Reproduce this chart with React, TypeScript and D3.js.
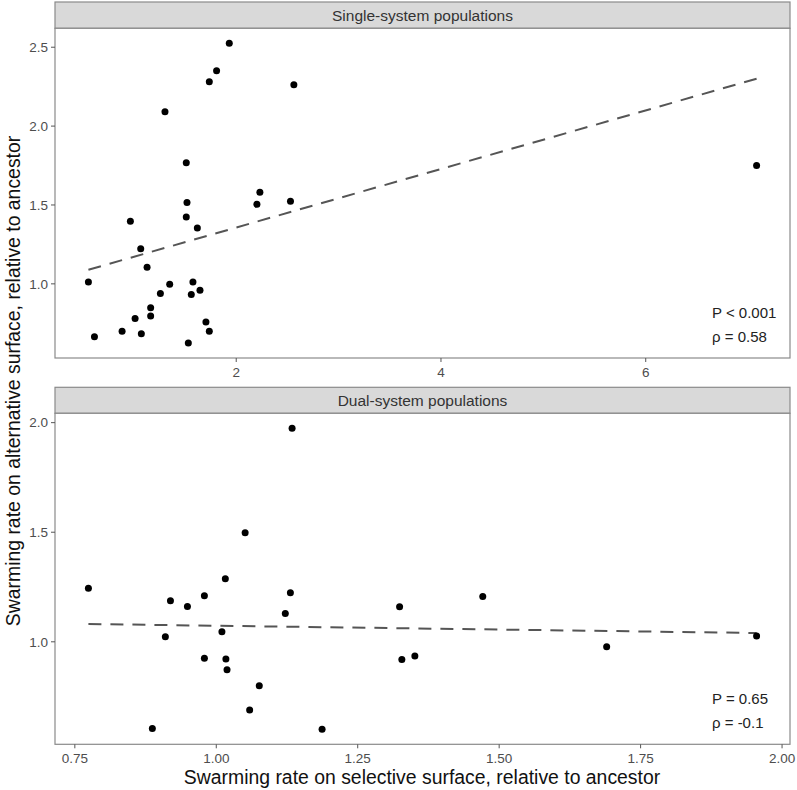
import React from "react";
import * as d3 from "d3";

// Single-system panel data
const singleX = [0.556, 0.615, 0.885, 0.966, 1.012, 1.067, 1.073, 1.129, 1.164, 1.164, 1.259, 1.304, 1.35, 1.512, 1.519, 1.512, 1.532, 1.561, 1.577, 1.62, 1.646, 1.704, 1.737, 1.737, 1.808, 1.932, 2.202, 2.231, 2.53, 2.563, 7.083];
const singleY = [1.011, 0.665, 0.7, 1.397, 0.78, 1.222, 0.684, 1.106, 0.848, 0.797, 0.939, 2.091, 0.998, 1.768, 1.515, 1.424, 0.625, 0.933, 1.011, 1.354, 0.96, 0.758, 2.281, 0.7, 2.351, 2.525, 1.504, 1.58, 1.523, 2.262, 1.751];
const singleFit = [0.986, 0.1856]; // intercept, slope
const singleXTicks = [2, 4, 6];
const singleYTicks = [1.0, 1.5, 2.0, 2.5];
const singleStats = ["P < 0.001", "ρ = 0.58"];

// Dual-system panel data
const dualX = [0.774, 0.887, 0.91, 0.919, 0.949, 0.979, 0.979, 1.01, 1.016, 1.017, 1.019, 1.051, 1.059, 1.076, 1.122, 1.131, 1.134, 1.187, 1.324, 1.328, 1.351, 1.471, 1.69, 1.955];
const dualY = [1.244, 0.605, 1.023, 1.187, 1.161, 1.21, 0.925, 1.046, 1.288, 0.921, 0.873, 1.498, 0.689, 0.8, 1.129, 1.224, 1.974, 0.601, 1.16, 0.919, 0.935, 1.207, 0.977, 1.026];
const dualFit = [1.108, -0.0347];
const dualXTicks = [0.75, 1.0, 1.25, 1.5, 1.75, 2.0];
const dualYTicks = [1.0, 1.5, 2.0];
const dualStats = ["P = 0.65", "ρ = -0.1"];

const titles = ["Single-system populations", "Dual-system populations"];
const xTitle = "Swarming rate on selective surface, relative to ancestor";
const yTitle = "Swarming rate on alternative surface, relative to ancestor";

const FONT = "'Liberation Sans', Arial, Helvetica, sans-serif";

function expand(vals: number[]): [number, number] {
  const [a, b] = d3.extent(vals) as [number, number];
  const r = (b - a) * 0.05;
  return [a - r, b + r];
}

type PanelProps = {
  xs: number[]; ys: number[]; fit: number[]; xTicks: number[]; yTicks: number[];
  xFmt: (v: number) => string; stats: string[]; title: string;
  stripTop: number; top: number; bottom: number;
};

const LEFT = 55;
const RIGHT = 790;

function Panel(p: PanelProps) {
  const x = d3.scaleLinear().domain(expand(p.xs)).range([LEFT, RIGHT]);
  const y = d3.scaleLinear().domain(expand(p.ys)).range([p.bottom, p.top]);
  const [x0, x1] = d3.extent(p.xs) as [number, number];
  const line = d3.line<number>().x((d) => x(d)).y((d) => y(p.fit[0] + p.fit[1] * d));
  const yFmt = d3.format(".1f");
  return (
    <g>
      <rect x={LEFT} y={p.stripTop} width={RIGHT - LEFT} height={p.top - p.stripTop} fill="#d9d9d9" stroke="#8a8a8a" strokeWidth={1.2} />
      <text x={(LEFT + RIGHT) / 2} y={(p.stripTop + p.top) / 2 + 5.5} textAnchor="middle" fontSize={15.5} fill="#333" fontFamily={FONT}>{p.title}</text>
      <rect x={LEFT} y={p.top} width={RIGHT - LEFT} height={p.bottom - p.top} fill="white" stroke="#8a8a8a" strokeWidth={1.2} />
      {p.yTicks.map((t) => (
        <g key={"y" + t}>
          <line x1={LEFT - 4} x2={LEFT} y1={y(t)} y2={y(t)} stroke="#555" strokeWidth={1} />
          <text x={LEFT - 7} y={y(t) + 4.8} textAnchor="end" fontSize={13.5} fill="#4d4d4d" fontFamily={FONT}>{yFmt(t)}</text>
        </g>
      ))}
      {p.xTicks.map((t) => (
        <g key={"x" + t}>
          <line x1={x(t)} x2={x(t)} y1={p.bottom} y2={p.bottom + 4} stroke="#555" strokeWidth={1} />
          <text x={x(t)} y={p.bottom + 18.5} textAnchor="middle" fontSize={13.5} fill="#4d4d4d" fontFamily={FONT}>{p.xFmt(t)}</text>
        </g>
      ))}
      <path d={line([x0, x1]) || ""} fill="none" stroke="#555" strokeWidth={2} strokeDasharray="13,9" />
      {p.xs.map((xv, i) => (
        <circle key={i} cx={x(xv)} cy={y(p.ys[i])} r={3.5} fill="black" />
      ))}
      {p.stats.map((s, i) => (
        <text key={s} x={712} y={p.bottom - 40 + i * 24} fontSize={15} fill="#222" fontFamily={FONT}>{s}</text>
      ))}
    </g>
  );
}

export default function App() {
  return (
    <svg width={797} height={790} style={{ position: "absolute", left: 0, top: 0, background: "white" }}>
      <rect width={797} height={790} fill="white" />
      <Panel xs={singleX} ys={singleY} fit={singleFit} xTicks={singleXTicks} yTicks={singleYTicks}
        xFmt={d3.format("d")} stats={singleStats} title={titles[0]} stripTop={2} top={28.3} bottom={358} />
      <Panel xs={dualX} ys={dualY} fit={dualFit} xTicks={dualXTicks} yTicks={dualYTicks}
        xFmt={d3.format(".2f")} stats={dualStats} title={titles[1]} stripTop={387.3} top={413.3} bottom={744.3} />
      <text x={422} y={783.5} textAnchor="middle" fontSize={19.4} fill="#111" fontFamily={FONT}>{xTitle}</text>
      <text transform="translate(19.5,381) rotate(-90)" textAnchor="middle" fontSize={19.4} fill="#111" fontFamily={FONT}>{yTitle}</text>
    </svg>
  );
}
